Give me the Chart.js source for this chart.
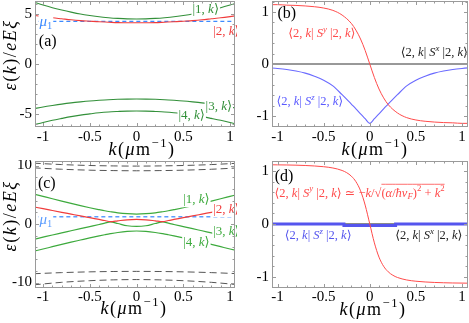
<!DOCTYPE html>
<html lang="en">
<head>
<meta charset="UTF-8">
<title>Bands and spin expectation values</title>
<script src="https://cdn.jsdelivr.net/npm/chart.js"></script>
<style>
  html, body { margin: 0; padding: 0; background: #fff; }
  #wrap { position: relative; width: 469px; height: 323px; overflow: hidden; }
  canvas { position: absolute; }
</style>
</head>
<body>
<div id="wrap">
  <canvas id="panelA" style="left:0;top:0" width="237" height="160"></canvas>
  <canvas id="panelB" style="left:237px;top:0" width="232" height="160"></canvas>
  <canvas id="panelC" style="left:0;top:160px" width="237" height="163"></canvas>
  <canvas id="panelD" style="left:237px;top:160px" width="232" height="163"></canvas>
</div>

<script>
// ---- data ----
const kTicks = [-1, -0.5, 0, 0.5, 1];

// (a) bands, eps(k)/eE xi
const kA = [-1.1, -1, -0.9, -0.8, -0.7, -0.6, -0.5, -0.4, -0.3, -0.2, -0.1, 0, 0.1, 0.2, 0.3, 0.4, 0.5, 0.6, 0.7, 0.8, 0.9, 1, 1.1];
const band1A = [6.19, 5.90, 5.63, 5.40, 5.19, 5.00, 4.85, 4.72, 4.63, 4.56, 4.51, 4.50, 4.51, 4.56, 4.63, 4.72, 4.85, 5.00, 5.19, 5.40, 5.63, 5.90, 6.19];
const band2A = [4.87, 4.74, 4.62, 4.52, 4.42, 4.34, 4.28, 4.22, 4.18, 4.14, 4.13, 4.12, 4.13, 4.14, 4.18, 4.22, 4.28, 4.34, 4.42, 4.52, 4.62, 4.74, 4.87];
const band3A = [-4.47, -4.30, -4.15, -4.01, -3.89, -3.79, -3.70, -3.63, -3.57, -3.53, -3.51, -3.50, -3.51, -3.53, -3.57, -3.63, -3.70, -3.79, -3.89, -4.01, -4.15, -4.30, -4.47];
const band4A = [-6.09, -5.85, -5.63, -5.44, -5.26, -5.11, -4.99, -4.88, -4.80, -4.75, -4.71, -4.70, -4.71, -4.75, -4.80, -4.88, -4.99, -5.11, -5.26, -5.44, -5.63, -5.85, -6.09];
const mu1A = 4.27;
const yTicksA = [-5, 0, 5];

// (b) spin expectation values of |2,k>
const kB = [-1.1, -1, -0.9, -0.8, -0.7, -0.6, -0.5, -0.4, -0.3, -0.2, -0.15, -0.1, -0.05, 0, 0.05, 0.1, 0.15, 0.2, 0.3, 0.4, 0.5, 0.6, 0.7, 0.8, 0.9, 1, 1.1];
const syB = [1.14, 1.14, 1.13, 1.125, 1.115, 1.10, 1.075, 1.03, 0.94, 0.78, 0.65, 0.48, 0.26, 0, -0.26, -0.48, -0.65, -0.78, -0.94, -1.03, -1.075, -1.10, -1.115, -1.125, -1.13, -1.14, -1.14];
const szB = [-0.07, -0.085, -0.105, -0.135, -0.175, -0.235, -0.31, -0.42, -0.59, -0.77, -0.86, -0.96, -1.05, -1.14, -1.05, -0.96, -0.86, -0.77, -0.59, -0.42, -0.31, -0.235, -0.175, -0.135, -0.105, -0.085, -0.07];
const kSx = [-1.2, 1.2];
const sxB = [0, 0];
const yTicksS = [-1, 0, 1];

// (c) bands with the outer (dashed) bands
const kC = [-1.1, -1, -0.9, -0.8, -0.7, -0.6, -0.5, -0.4, -0.34, -0.28, -0.2, -0.1, 0, 0.1, 0.2, 0.28, 0.34, 0.4, 0.5, 0.6, 0.7, 0.8, 0.9, 1, 1.1];
const band1C = [5.13, 4.72, 4.31, 3.91, 3.52, 3.14, 2.78, 2.45, 2.26, 2.10, 1.91, 1.76, 1.70, 1.76, 1.91, 2.10, 2.26, 2.45, 2.78, 3.14, 3.52, 3.91, 4.31, 4.72, 5.13];
const band2C = [2.92, 2.62, 2.31, 2.00, 1.69, 1.38, 1.08, 0.78, 0.60, 0.40, 0.55, 0.72, 0.78, 0.72, 0.55, 0.40, 0.60, 0.78, 1.08, 1.38, 1.69, 2.00, 2.31, 2.62, 2.92];
const band3C = [-2.62, -2.25, -1.88, -1.52, -1.16, -0.80, -0.44, -0.08, 0.14, 0.38, 0.08, -0.30, -0.42, -0.30, 0.08, 0.38, 0.14, -0.08, -0.44, -0.80, -1.16, -1.52, -1.88, -2.25, -2.62];
const band4C = [-4.67, -4.27, -3.88, -3.49, -3.11, -2.74, -2.37, -2.03, -1.84, -1.66, -1.45, -1.27, -1.20, -1.27, -1.45, -1.66, -1.84, -2.03, -2.37, -2.74, -3.11, -3.49, -3.88, -4.27, -4.67];
const kCo = [-1.1, -0.8, -0.5, -0.25, 0, 0.25, 0.5, 0.8, 1.1];
const outer1C = [10.40, 10.16, 10.00, 9.93, 9.90, 9.93, 10.00, 10.16, 10.40];
const outer2C = [9.60, 9.36, 9.20, 9.13, 9.10, 9.13, 9.20, 9.36, 9.60];
const outer3C = [-8.50, -8.31, -8.18, -8.12, -8.10, -8.12, -8.18, -8.31, -8.50];
const outer4C = [-10.40, -9.97, -9.69, -9.55, -9.50, -9.55, -9.69, -9.97, -10.40];
const mu1C = 1.25;
const yTicksC = [-10, 0, 10];

// (d) spin expectation values of |2,k>
const kD = [-1.1, -1, -0.9, -0.8, -0.7, -0.6, -0.5, -0.4, -0.3, -0.25, -0.2, -0.15, -0.1, -0.05, 0, 0.05, 0.1, 0.15, 0.2, 0.25, 0.3, 0.4, 0.5, 0.6, 0.7, 0.8, 0.9, 1, 1.1];
const syD = [1.12, 1.117, 1.115, 1.111, 1.105, 1.096, 1.082, 1.058, 1.011, 0.969, 0.904, 0.799, 0.627, 0.357, 0, -0.357, -0.627, -0.799, -0.904, -0.969, -1.011, -1.058, -1.082, -1.096, -1.105, -1.111, -1.115, -1.117, -1.12];
const kDz = [-1.2, -0.28, -0.28, 0.28, 0.28, 1.2];
const szD = [0, 0, -0.03, -0.03, 0, 0];
const sxD = [0, 0];

// ---- drawing helpers ----
const SERIF = '"Liberation Serif", "DejaVu Serif", serif';
const GREEN_A = '#33903a', GREEN_C = '#3daa3d', RED = '#f03c3c', BLUE = '#3d8bff';

function pts(xs, ys) { return xs.map((x, i) => ({ x: x, y: ys[i] })); }
function line(xs, ys, color, width, dash, straight) {
    return {
        data: pts(xs, ys), borderColor: color, borderWidth: width, borderDash: dash || [],
        pointRadius: 0, fill: false,
        cubicInterpolationMode: straight ? 'default' : 'monotone', tension: 0
    };
}

function segFont(flags, size) {
    const s = /[ud]/.test(flags) ? size * 0.7 : size;
    return (flags.indexOf('i') >= 0 ? 'italic ' : '') + s.toFixed(1) + 'px ' + SERIF;
}

// segs: [[text, flags]], flags: i italic, u superscript, d subscript, o overline
function drawRich(ctx, segs, x, y, size, color, align, bg, sp) {
    sp = sp || 0;
    const widths = segs.map(([t, f]) => {
        ctx.font = segFont(f, size);
        return ctx.measureText(t).width + sp * t.length;
    });
    const total = widths.reduce((a, b) => a + b, 0);
    let cx = align === 'center' ? x - total / 2 : (align === 'right' ? x - total : x);
    if (bg) {
        ctx.fillStyle = '#fff';
        ctx.fillRect(cx - 1, y - size * 0.55, total + 2, size * 1.1);
    }
    ctx.fillStyle = color;
    ctx.strokeStyle = color;
    ctx.textBaseline = 'middle';
    ctx.textAlign = 'left';
    segs.forEach(([t, f], i) => {
        ctx.font = segFont(f, size);
        const dy = f.indexOf('u') >= 0 ? -size * 0.35 : (f.indexOf('d') >= 0 ? size * 0.25 : 0);
        let px = cx;
        for (const ch of t) {
            ctx.fillText(ch, px, y + dy);
            px += ctx.measureText(ch).width + sp;
        }
        if (f.indexOf('o') >= 0) {
            ctx.lineWidth = 0.8;
            ctx.beginPath();
            ctx.moveTo(cx, y - size * 0.72);
            ctx.lineTo(cx + widths[i], y - size * 0.72);
            ctx.stroke();
        }
        cx += widths[i];
    });
}

const ket = n => [['|' + n + ', ', ''], ['k', 'i'], ['\u27E9', '']];
const expect = c => [['\u27E82, ', ''], ['k', 'i'], ['| ', ''], ['S', 'i'], [c, 'iu'], [' |2, ', ''], ['k', 'i'], ['\u27E9', '']];
const mu1 = [['\u03BC', 'i'], ['1', 'd']];
const xTitle = [['k', 'i'], ['(', ''], ['\u03BC', 'i'], ['m', ''], ['\u22121', 'u'], [')', '']];
const yTitle = [['\u03B5', 'i'], ['(', ''], ['k', 'i'], [')/', ''], ['eE\u03BE', 'i']];

function framePlugin(cfg) {
    return {
        id: 'frame' + cfg.id,
        afterDatasetsDraw(chart) {
            const ctx = chart.ctx, xs = chart.scales.x, ys = chart.scales.y;
            ctx.save();
            cfg.notes.forEach(n => drawRich(ctx, n.segs, xs.getPixelForValue(n.x), ys.getPixelForValue(n.y),
                n.size, n.color, n.align || 'center', n.bg));
            ctx.restore();
        },
        afterDraw(chart) {
            const ctx = chart.ctx, a = chart.chartArea, xs = chart.scales.x, ys = chart.scales.y;
            ctx.save();
            ctx.strokeStyle = '#9a9a9a';
            ctx.lineWidth = 1;
            ctx.strokeRect(a.left + 0.5, a.top + 0.5, a.width - 1, a.height - 1);
            // ticks pointing inwards on all four sides
            function marks(scale, major, minor, horiz) {
                const i0 = Math.ceil(scale.min / minor), i1 = Math.floor(scale.max / minor);
                for (let i = i0; i <= i1; i++) {
                    const v = i * minor;
                    const r = v / major;
                    const len = Math.abs(r - Math.round(r)) < 1e-6 ? 4 : 2.5;
                    const p = Math.round(scale.getPixelForValue(v)) + 0.5;
                    ctx.beginPath();
                    if (horiz) {
                        ctx.moveTo(p, a.bottom); ctx.lineTo(p, a.bottom - len);
                        ctx.moveTo(p, a.top); ctx.lineTo(p, a.top + len);
                    } else {
                        ctx.moveTo(a.left, p); ctx.lineTo(a.left + len, p);
                        ctx.moveTo(a.right, p); ctx.lineTo(a.right - len, p);
                    }
                    ctx.stroke();
                }
            }
            marks(xs, 0.5, 0.1, true);
            marks(ys, cfg.yMajor, cfg.yMinor, false);
            drawRich(ctx, xTitle, cfg.xTitlePos[0], cfg.xTitlePos[1], 18, '#000', 'center', false, 1.5);
            if (cfg.yTitlePos) {
                ctx.translate(cfg.yTitlePos[0], cfg.yTitlePos[1]);
                ctx.rotate(-Math.PI / 2);
                drawRich(ctx, yTitle, 0, 0, 18, '#000', 'center', false, 1.5);
            }
            ctx.restore();
        }
    };
}

function panel(cfg) {
    const tickFont = { family: SERIF, size: 15 };
    new Chart(document.getElementById(cfg.id), {
        type: 'line',
        data: { datasets: cfg.datasets },
        options: {
            responsive: false,
            animation: false,
            devicePixelRatio: 1,
            layout: { padding: { left: 0, right: cfg.padRight, top: 1, bottom: 0 } },
            plugins: { legend: { display: false }, tooltip: { enabled: false } },
            scales: {
                x: {
                    type: 'linear', min: cfg.xMin, max: cfg.xMax,
                    grid: { display: false, drawTicks: false }, border: { display: false },
                    ticks: { font: tickFont, color: '#000', padding: cfg.xPad, autoSkip: false, maxRotation: 0, callback: v => String(v) },
                    afterBuildTicks: s => { s.ticks = kTicks.map(v => ({ value: v })); },
                    afterFit: s => { s.height = cfg.xHeight; s.paddingLeft = 0; s.paddingRight = 0; }
                },
                y: {
                    type: 'linear', min: cfg.yMin, max: cfg.yMax,
                    grid: { display: false, drawTicks: false }, border: { display: false },
                    ticks: { font: tickFont, color: '#000', padding: 3, autoSkip: false, callback: v => String(v) },
                    afterBuildTicks: s => { s.ticks = cfg.yTicks.map(v => ({ value: v })); },
                    afterFit: s => { s.width = cfg.yWidth; s.paddingTop = 0; s.paddingBottom = 0; }
                }
            }
        },
        plugins: [framePlugin(cfg)]
    });
}

// (a)
panel({
    id: 'panelA', padRight: 2, xMin: -1.086, xMax: 1.053, yMin: -6.3, yMax: 6.3,
    yTicks: yTicksA, yMajor: 5, yMinor: 1, yWidth: 35, xHeight: 33, xPad: 1,
    xTitlePos: [142, 150], yTitlePos: [11, 55],
    datasets: [
        line(kA, band1A, GREEN_A, 1.1),
        line(kA, band2A, RED, 1.1),
        line([-1.2, 1.2], [mu1A, mu1A], BLUE, 1.3, [4, 3], true),
        line(kA, band3A, GREEN_A, 1.1),
        line(kA, band4A, GREEN_A, 1.1)
    ],
    notes: [
        { x: 0.74, y: 5.4, segs: ket(1), size: 13, color: GREEN_A, bg: true },
        { x: 0.82, y: 3.2, segs: ket(2), size: 13, color: RED, align: 'left', bg: true },
        { x: 0.88, y: -4.3, segs: ket(3), size: 13, color: GREEN_A, bg: true },
        { x: 0.59, y: -5.2, segs: ket(4), size: 13, color: GREEN_A, bg: true },
        { x: -0.97, y: 4.2, segs: mu1, size: 15, color: BLUE, bg: true },
        { x: -0.95, y: 2.25, segs: [['(a)', '']], size: 16, color: '#000' }
    ]
});

// (b)
panel({
    id: 'panelB', padRight: 1, xMin: -1.06, xMax: 1.065, yMin: -1.21, yMax: 1.21,
    yTicks: yTicksS, yMajor: 1, yMinor: 0.2, yWidth: 35, xHeight: 33, xPad: 1,
    xTitlePos: [138, 150], yTitlePos: null,
    datasets: [
        line(kB, syB, '#ff4a4a', 1),
        line(kB, szB, '#6a6aff', 1.1),
        line(kSx, sxB, '#333', 1, null, true)
    ],
    notes: [
        { x: -0.9, y: 0.96, segs: [['(b)', '']], size: 16, color: '#000' },
        { x: -0.52, y: 0.58, segs: expect('y'), size: 12.5, color: '#ff4a4a' },
        { x: 0.70, y: 0.21, segs: expect('x'), size: 12.5, color: '#222' },
        { x: -0.65, y: -0.73, segs: expect('z'), size: 12.5, color: '#5a5aff' }
    ]
});

// (c)
panel({
    id: 'panelC', padRight: 2, xMin: -1.086, xMax: 1.053, yMin: -10.94, yMax: 10.77,
    yTicks: yTicksC, yMajor: 10, yMinor: 2, yWidth: 35, xHeight: 35, xPad: 0,
    xTitlePos: [134, 149], yTitlePos: [11, 56],
    datasets: [
        line(kC, band1C, GREEN_C, 1.2),
        line(kC, band2C, RED, 1.2),
        line([-1.2, 1.2], [mu1C, mu1C], '#5c9dff', 1.5, [4, 3], true),
        line(kC, band3C, GREEN_C, 1.2),
        line(kC, band4C, GREEN_C, 1.2),
        line(kCo, outer1C, '#555', 1, [7, 4]),
        line(kCo, outer2C, '#555', 1, [7, 4]),
        line(kCo, outer3C, '#555', 1, [7, 4]),
        line(kCo, outer4C, '#555', 1, [7, 4])
    ],
    notes: [
        { x: -0.96, y: 6.84, segs: [['(c)', '']], size: 16, color: '#000' },
        { x: 0.64, y: 4.1, segs: ket(1), size: 13, color: GREEN_C, bg: true },
        { x: 0.82, y: 2.4, segs: ket(2), size: 13, color: RED, align: 'left', bg: true },
        { x: 0.82, y: -1.37, segs: ket(3), size: 13, color: GREEN_C, align: 'left', bg: true },
        { x: 0.64, y: -3.1, segs: ket(4), size: 13, color: GREEN_C, bg: true },
        { x: -0.97, y: 0.68, segs: mu1, size: 15, color: '#5c9dff', bg: true }
    ]
});

// (d)
const redD = expect('y').concat([[' \u2243 \u2212', ''], ['k', 'i'], ['/', ''], ['\u221A', ''],
    ['(', 'o'], ['\u03B1', 'io'], ['/', 'o'], ['\u0127v', 'io'], ['F', 'ido'], [')', 'o'], ['2', 'uo'],
    [' + ', 'o'], ['k', 'io'], ['2', 'uo']]);
panel({
    id: 'panelD', padRight: 1, xMin: -1.06, xMax: 1.065, yMin: -1.21, yMax: 1.19,
    yTicks: yTicksS, yMajor: 1, yMinor: 0.2, yWidth: 35, xHeight: 35, xPad: 0,
    xTitlePos: [136, 150], yTitlePos: null,
    datasets: [
        line(kD, syD, '#ff4a4a', 1),
        line(kDz, szD, '#5555ee', 3, null, true),
        line(kSx, sxD, '#222', 1, null, true)
    ],
    notes: [
        { x: -0.93, y: 0.9, segs: [['(d)', '']], size: 16, color: '#000' },
        { x: -1.033, y: 0.58, segs: redD, size: 12.5, color: '#ff4a4a', align: 'left' },
        { x: -0.56, y: -0.23, segs: expect('z'), size: 12.5, color: '#5555ee' },
        { x: 0.64, y: -0.23, segs: expect('x'), size: 12.5, color: '#222' }
    ]
});
</script>
</body>
</html>
